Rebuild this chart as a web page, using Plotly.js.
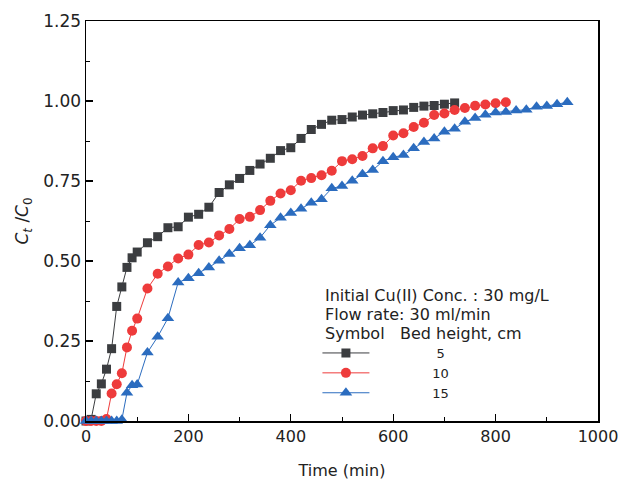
<!DOCTYPE html>
<html>
<head>
<meta charset="utf-8">
<script src="https://cdn.plot.ly/plotly-3.0.1.min.js"></script>
<style>html,body{margin:0;padding:0;background:#fff;}#chart{width:632px;height:481px;}</style>
</head>
<body>
<div id="chart"></div>
<script>
// Bed height 5 cm
const time5 = [0,10,20,30,40,50,60,70,80,90,100,120,140,160,180,200,220,240,260,280,300,320,340,360,380,400,420,440,460,480,500,520,540,560,580,600,620,640,660,680,700,720];
const ratio5 = [0,0.005,0.085,0.116,0.162,0.226,0.358,0.419,0.48,0.51,0.528,0.557,0.576,0.604,0.607,0.637,0.646,0.668,0.714,0.738,0.758,0.783,0.803,0.821,0.845,0.854,0.883,0.911,0.927,0.940,0.942,0.950,0.956,0.960,0.964,0.970,0.972,0.980,0.984,0.986,0.990,0.994];
// Bed height 10 cm
const time10 = [0,10,20,30,40,50,60,70,80,90,100,120,140,160,180,200,220,240,260,280,300,320,340,360,380,400,420,440,460,480,500,520,540,560,580,600,620,640,660,680,700,720,740,760,780,800,820];
const ratio10 = [0,0,0,0,0.006,0.086,0.115,0.149,0.23,0.282,0.32,0.414,0.46,0.483,0.508,0.52,0.55,0.558,0.58,0.60,0.631,0.638,0.659,0.688,0.711,0.721,0.751,0.759,0.768,0.782,0.812,0.818,0.828,0.852,0.859,0.892,0.899,0.919,0.932,0.956,0.961,0.972,0.978,0.985,0.989,0.993,0.996];
// Bed height 15 cm
const time15 = [0,10,20,30,40,50,60,70,80,90,100,120,140,160,180,200,220,240,260,280,300,320,340,360,380,400,420,440,460,480,500,520,540,560,580,600,620,640,660,680,700,720,740,760,780,800,820,840,860,880,900,920,940];
const ratio15 = [0,0,0,0,0,0,0,0.004,0.088,0.112,0.114,0.214,0.263,0.321,0.433,0.446,0.462,0.480,0.501,0.522,0.540,0.549,0.573,0.612,0.635,0.650,0.663,0.682,0.693,0.727,0.734,0.751,0.771,0.784,0.812,0.824,0.831,0.852,0.872,0.883,0.904,0.913,0.935,0.947,0.957,0.964,0.966,0.970,0.973,0.982,0.984,0.990,0.996];

const seriesNames = ['5','10','15'];
const xTickVals = [0,200,400,600,800,1000];
const yTickVals = [0,0.25,0.5,0.75,1.0,1.25];

const FONT = 'DejaVu Sans, Arial, sans-serif';
const pad = '\u00A0'.repeat(15);

function tr(x, y, name, color, symbol, size) {
  return {
    x: x, y: y, name: name, type: 'scatter', mode: 'lines+markers',
    line: {color: color, width: 1},
    marker: {color: color, symbol: symbol, size: size},
    cliponaxis: false
  };
}

const data = [
  tr(time5, ratio5, pad + seriesNames[0], '#3b3d40', 'square', 9),
  tr(time10, ratio10, pad.slice(1) + seriesNames[1], '#ee3b3b', 'circle', 10),
  tr(time15, ratio15, pad.slice(1) + seriesNames[2], '#2b6cbf', 'triangle-up', 11)
];

const axisCommon = {
  showline: true, linecolor: '#000', linewidth: 1.5, mirror: true,
  ticks: 'inside', ticklen: 7, tickwidth: 1.2, tickcolor: '#000',
  showgrid: false, zeroline: false,
  tickfont: {family: FONT, size: 16, color: '#222'}
};

const layout = {
  width: 632, height: 481,
  margin: {l: 86, r: 34, t: 21, b: 60},
  paper_bgcolor: '#fff', plot_bgcolor: '#fff',
  font: {family: FONT, color: '#222'},
  xaxis: Object.assign({}, axisCommon, {
    range: [0, 1000], tickvals: xTickVals,
    minor: {ticks: 'inside', ticklen: 4, dtick: 100, tickcolor: '#000', tickwidth: 1},
    title: {text: 'Time (min)', font: {family: FONT, size: 16, color: '#222'}, standoff: 20}
  }),
  yaxis: Object.assign({}, axisCommon, {
    range: [0, 1.25], tickvals: yTickVals, tickformat: '.2f',
    tickfont: {family: FONT, size: 17, color: '#222'},
    minor: {ticks: 'inside', ticklen: 4, dtick: 0.125, tickcolor: '#000', tickwidth: 1},
    title: {text: '<i>C<sub>t</sub></i> /<i>C</i><sub>0</sub>', font: {family: FONT, size: 17, color: '#222'}, standoff: 10}
  }),
  showlegend: true,
  legend: {
    x: 0.452, xanchor: 'left', y: 0.2075, yanchor: 'top',
    bgcolor: 'rgba(0,0,0,0)', borderwidth: 0,
    font: {family: FONT, size: 13, color: '#222'},
    itemwidth: 47,
    tracegroupgap: 0
  },
  annotations: [
    {xref: 'paper', yref: 'paper', x: 0.462, y: 0.315, xanchor: 'left', yanchor: 'middle', showarrow: false,
     text: 'Initial Cu(II) Conc. : 30 mg/L', font: {family: FONT, size: 16, color: '#222'}},
    {xref: 'paper', yref: 'paper', x: 0.462, y: 0.267, xanchor: 'left', yanchor: 'middle', showarrow: false,
     text: 'Flow rate: 30 ml/min', font: {family: FONT, size: 16, color: '#222'}},
    {xref: 'paper', yref: 'paper', x: 0.462, y: 0.219, xanchor: 'left', yanchor: 'middle', showarrow: false,
     text: 'Symbol', font: {family: FONT, size: 16, color: '#222'}},
    {xref: 'paper', yref: 'paper', x: 0.609, y: 0.219, xanchor: 'left', yanchor: 'middle', showarrow: false,
     text: 'Bed height, cm', font: {family: FONT, size: 16, color: '#222'}}
  ]
};

Plotly.newPlot('chart', data, layout, {displayModeBar: false, staticPlot: true});
</script>
</body>
</html>
